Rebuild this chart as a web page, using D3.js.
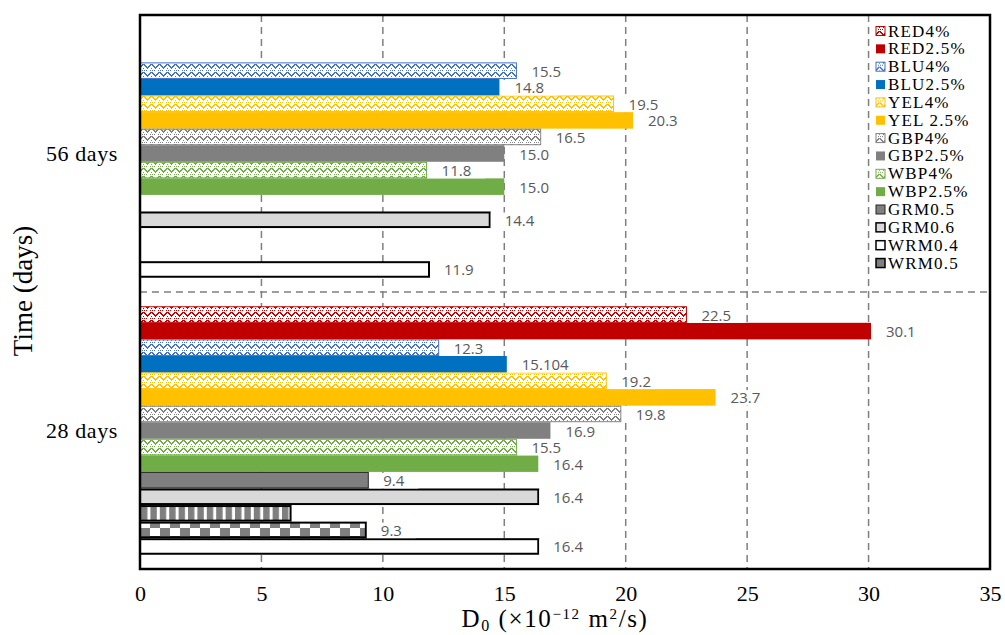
<!DOCTYPE html>
<html><head><meta charset="utf-8">
<script src="https://cdn.jsdelivr.net/npm/d3@7"></script>
<style>body{margin:0;background:#fff}</style>
</head><body>
<svg id="c" width="1005" height="635"></svg>
<script>
// ---------- data ----------
const categories = ["56 days", "28 days"];
const seriesNames = ["RED4%","RED2.5%","BLU4%","BLU2.5%","YEL4%","YEL2.5%","GBP4%","GBP2.5%","WBP4%","WBP2.5%","GRM0.5","GRM0.6","WRM0.4","WRM0.5","WRM"];
const legendNames = ["RED4%","RED2.5%","BLU4%","BLU2.5%","YEL4%","YEL 2.5%","GBP4%","GBP2.5%","WBP4%","WBP2.5%","GRM0.5","GRM0.6","WRM0.4","WRM0.5"];
const values56 = [null,null,15.5,14.8,19.5,20.3,16.5,15.0,11.8,15.0,null,14.4,null,null,11.9];
const values28 = [22.5,30.1,12.3,15.104,19.2,23.7,19.8,16.9,15.5,16.4,9.4,16.4,6.2,9.3,16.4];
const labels56 = [null,null,"15.5","14.8","19.5","20.3","16.5","15.0","11.8","15.0",null,"14.4",null,null,"11.9"];
const labels28 = ["22.5","30.1","12.3","15.104","19.2","23.7","19.8","16.9","15.5","16.4","9.4","16.4",null,"9.3","16.4"];
const xTicks = [0,5,10,15,20,25,30,35];

// ---------- styles ----------
const styles = [
  {fill:"hatch", color:"#C00000"},
  {fill:"solid", color:"#C00000"},
  {fill:"hatch", color:"#4472C4"},
  {fill:"solid", color:"#0070C0"},
  {fill:"hatch", color:"#FFC000"},
  {fill:"solid", color:"#FFC000"},
  {fill:"hatch", color:"#808080"},
  {fill:"solid", color:"#808080"},
  {fill:"hatch", color:"#70AD47"},
  {fill:"solid", color:"#70AD47"},
  {fill:"solid", color:"#7F7F7F", stroke:"#262626", sw:1},
  {fill:"solid", color:"#D9D9D9", stroke:"#000", sw:2},
  {fill:"stripe", color:"#7F7F7F", stroke:"#000", sw:2},
  {fill:"checker", color:"#7F7F7F", stroke:"#000", sw:2},
  {fill:"solid", color:"#FFFFFF", stroke:"#000", sw:2}
];
const legendStyles = styles.slice(0, 12).concat([
  {fill:"solid", color:"#FFFFFF", stroke:"#000", sw:2},
  {fill:"solid", color:"#7F7F7F", stroke:"#000", sw:2}
]);

const svg = d3.select("#c");
const M = {left:140, right:990, top:15, bottom:569};
const defs = svg.append("defs");

const hatchBits = [
  "X.....XX",
  "XX...XX.",
  ".XX.XX..",
  "..XXX...",
  "...X...X",
  "........",
  "X.X...X.",
  "........"
];
function patId(st){ return "p_" + st.fill + "_" + st.color.replace("#",""); }
function makePattern(st){
  const id = patId(st);
  if (!defs.select("#"+id).empty()) return id;
  if (st.fill === "hatch") {
    const p = defs.append("pattern").attr("id", id).attr("patternUnits","userSpaceOnUse")
      .attr("width", 8).attr("height", 8);
    p.append("rect").attr("width",8).attr("height",8).attr("fill","#fff");
    hatchBits.forEach((row, r) => row.split("").forEach((ch, c) => {
      if (ch === "X") p.append("rect").attr("x", c).attr("y", r).attr("width",1).attr("height",1)
        .attr("fill", st.color).attr("shape-rendering","crispEdges");
    }));
  } else if (st.fill === "stripe") {
    const p = defs.append("pattern").attr("id", id).attr("patternUnits","userSpaceOnUse")
      .attr("width", 9.4).attr("height", 10);
    p.append("rect").attr("width",9.4).attr("height",10).attr("fill","#fff");
    p.append("rect").attr("width",6.4).attr("height",10).attr("fill", st.color);
  } else if (st.fill === "checker") {
    const p = defs.append("pattern").attr("id", id).attr("patternUnits","userSpaceOnUse")
      .attr("width", 20).attr("height", 16).attr("y", 0);
    p.append("rect").attr("width",20).attr("height",16).attr("fill","#fff");
    p.append("rect").attr("x",0).attr("y",0).attr("width",10).attr("height",8).attr("fill", st.color);
    p.append("rect").attr("x",10).attr("y",8).attr("width",10).attr("height",8).attr("fill", st.color);
  }
  return id;
}
function fillOf(st){ return st.fill === "solid" ? st.color : "url(#" + makePattern(st) + ")"; }
function strokeOf(st){ return st.stroke ? st.stroke : (st.fill === "hatch" ? st.color : "none"); }
function swOf(st){ return st.sw ? st.sw : (st.fill === "hatch" ? 1 : 0); }

// ---------- scales ----------
const x = d3.scaleLinear().domain([0, 35]).range([M.left, M.right]);
const y0 = d3.scaleBand().domain(categories).range([M.top, M.bottom]).paddingInner(0).paddingOuter(0);
const y1 = d3.scaleBand().domain(d3.range(seriesNames.length)).range([0, y0.bandwidth()])
  .paddingInner(0).paddingOuter(0.86);

// ---------- gridlines ----------
const grid = svg.append("g");
grid.selectAll("line.v").data(xTicks.filter(t => t > 0 && t < 35)).join("line")
  .attr("x1", d => x(d)).attr("x2", d => x(d)).attr("y1", M.top).attr("y2", M.bottom)
  .attr("stroke", "#7f7f7f").attr("stroke-width", 1.5).attr("stroke-dasharray", "7,5");
grid.append("line").attr("x1", M.left).attr("x2", M.right)
  .attr("y1", y0("28 days")).attr("y2", y0("28 days"))
  .attr("stroke", "#7f7f7f").attr("stroke-width", 1.5).attr("stroke-dasharray", "7,5");

// ---------- bars ----------
const data = [];
categories.forEach((cat, ci) => {
  const vals = ci === 0 ? values56 : values28;
  const labs = ci === 0 ? labels56 : labels28;
  vals.forEach((v, si) => { if (v != null) data.push({cat, si, v, label: labs[si]}); });
});
const bars = svg.append("g");
bars.selectAll("rect").data(data).join("rect")
  .attr("x", x(0))
  .attr("y", d => y0(d.cat) + y1(d.si) + swOf(styles[d.si]) / 2)
  .attr("width", d => x(d.v) - x(0))
  .attr("height", d => y1.bandwidth() - swOf(styles[d.si]))
  .attr("fill", d => fillOf(styles[d.si]))
  .attr("stroke", d => strokeOf(styles[d.si]))
  .attr("stroke-width", d => swOf(styles[d.si]));

// ---------- data labels ----------
const lab = svg.append("g").style("font-family", "'Open Sans', sans-serif").style("font-size", "15px");
data.filter(d => d.label).forEach(d => {
  const yc = y0(d.cat) + y1(d.si) + y1.bandwidth() / 2;
  const g = lab.append("g");
  const bg = g.append("rect").attr("fill", "#fff");
  const t = g.append("text").attr("x", x(d.v) + 15).attr("y", yc + 2)
    .attr("dominant-baseline", "middle").attr("fill", "#595959").text(d.label);
  const w = t.node().getComputedTextLength();
  bg.attr("x", x(d.v) + 1).attr("y", yc - y1.bandwidth() / 2 + 1).attr("width", w + 28).attr("height", y1.bandwidth() - 1);
});

// ---------- frame ----------
svg.append("rect").attr("x", M.left).attr("y", M.top).attr("width", M.right - M.left)
  .attr("height", M.bottom - M.top).attr("fill", "none").attr("stroke", "#000").attr("stroke-width", 2.5);

// ---------- axes ----------
const xAxis = svg.append("g").attr("transform", `translate(0,${M.bottom})`)
  .call(d3.axisBottom(x).tickValues(xTicks).tickSize(0).tickPadding(16));
xAxis.select(".domain").remove();
xAxis.selectAll("text").style("font-family", "'Liberation Serif', serif").style("font-size", "22px").attr("fill", "#000");

const yAxis = svg.append("g").attr("transform", `translate(${M.left},0)`)
  .call(d3.axisLeft(y0).tickSize(0).tickPadding(22));
yAxis.select(".domain").remove();
yAxis.selectAll("text").style("font-family", "'Liberation Serif', serif").style("font-size", "22px")
  .style("letter-spacing", "0.6px").attr("fill", "#000");

// axis titles
const xt = svg.append("text").attr("x", 555).attr("y", 627).attr("text-anchor", "middle")
  .style("font-family", "'Liberation Serif', serif").style("font-size", "25px")
  .style("letter-spacing", "1.6px").attr("fill", "#000");
xt.append("tspan").text("D");
xt.append("tspan").attr("dy", 4).style("font-size", "16px").text("0");
xt.append("tspan").attr("dy", -4).text(" (×10");
xt.append("tspan").attr("dy", -8).style("font-size", "15px").text("−12");
xt.append("tspan").attr("dy", 8).text(" m");
xt.append("tspan").attr("dy", -8).style("font-size", "15px").text("2");
xt.append("tspan").attr("dy", 8).text("/s)");

svg.append("text").attr("transform", "translate(32,291) rotate(-90)").attr("text-anchor", "middle")
  .style("font-family", "'Liberation Serif', serif").style("font-size", "27px").attr("fill", "#000")
  .text("Time (days)");

// ---------- legend ----------
const lg = svg.append("g").attr("transform", "translate(872,22)");
lg.append("rect").attr("x", 0).attr("y", 0).attr("width", 114).attr("height", 262).attr("fill", "#fff");
const items = lg.selectAll("g.it").data(legendNames).join("g")
  .attr("transform", (d, i) => `translate(0,${9 + i * 17.85})`);
items.append("rect").attr("x", 4).attr("y", -4.5).attr("width", 9).attr("height", 9)
  .attr("fill", (d, i) => fillOf(legendStyles[i]))
  .attr("stroke", (d, i) => strokeOf(legendStyles[i]))
  .attr("stroke-width", (d, i) => Math.min(swOf(legendStyles[i]) || 0, 1.5));
items.append("text").attr("x", 16).attr("y", 5.5)
  .style("font-family", "'Liberation Serif', serif").style("font-size", "17px")
  .style("letter-spacing", "1.2px").attr("fill", "#000").text(d => d);
</script>
</body></html>
